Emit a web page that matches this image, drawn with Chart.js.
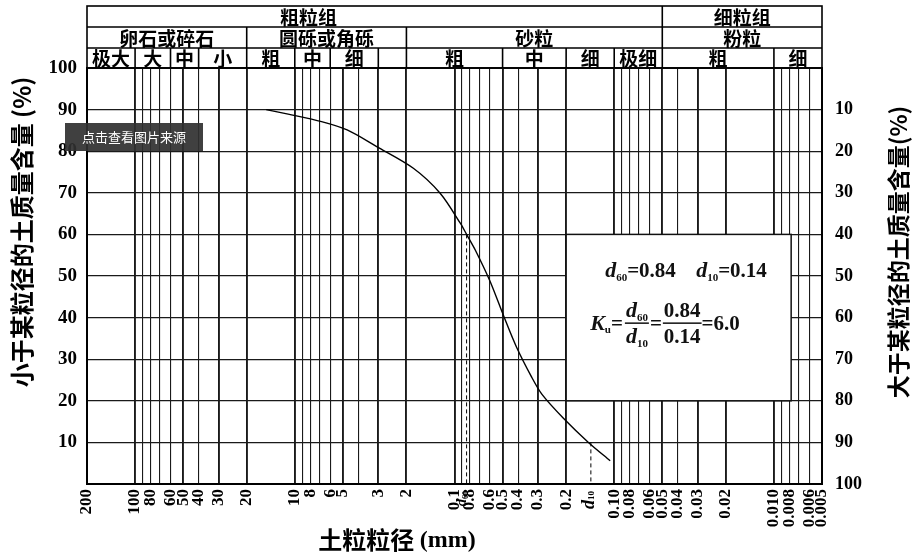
<!DOCTYPE html>
<html>
<head>
<meta charset="utf-8">
<script src="https://cdn.jsdelivr.net/npm/chart.js@4.4.1/dist/chart.umd.min.js"></script>
<style>
  html, body { margin: 0; padding: 0; background: #fff; }
</style>
</head>
<body>
<canvas id="chart" width="919" height="558"></canvas>
<script>
// grading curve: grain size (mm) vs. percent finer
const curveSizes = [15.1, 11.0, 6.8, 4.7, 3.07, 1.81, 1.23, 0.92, 0.84, 0.74, 0.60, 0.49, 0.41, 0.33, 0.284, 0.208, 0.145, 0.106];
const curvePassing = [90.0, 88.9, 87.1, 85.1, 81.1, 75.9, 69.9, 62.7, 60.0, 56.2, 48.8, 40.2, 33.0, 25.8, 21.6, 15.8, 10.0, 5.6];

const d60 = 0.84;
const d10 = 0.14;
const cu = 6.0;

// vertical grid lines of the log paper
const gridSizes = [200, 100, 90, 80, 70, 60, 50, 40, 30, 20,
  10, 9, 8, 7, 6, 5, 4, 3, 2,
  1, 0.9, 0.8, 0.7, 0.6, 0.5, 0.4, 0.3, 0.2,
  0.1, 0.09, 0.08, 0.07, 0.06, 0.05, 0.04, 0.03, 0.02,
  0.01, 0.009, 0.008, 0.007, 0.006, 0.005];

// labelled sizes under the axis (text as printed)
const labelSizes = [200, 100, 80, 60, 50, 40, 30, 20, 10, 8, 6, 5, 3, 2, 1, 0.8, 0.6, 0.5, 0.4, 0.3, 0.2,
  0.1, 0.08, 0.06, 0.05, 0.04, 0.03, 0.02, 0.01, 0.008, 0.006, 0.005];
const labelTexts = ["200", "100", "80", "60", "50", "40", "30", "20", "10", "8", "6", "5", "3", "2", "0.1", "0.8", "0.6", "0.5", "0.4", "0.3", "0.2",
  "0.10", "0.08", "0.06", "0.05", "0.04", "0.03", "0.02", "0.010", "0.008", "0.006", "0.005"];
const markSizes = [d60, d10];
const markSubs = ["60", "10"];

// classification header, three rows
const groupRow = [
  { from: 200, to: 0.05, text: "粗粒组", at: 8.2 },
  { from: 0.05, to: 0.005, text: "细粒组" },
];
const classRow = [
  { from: 200, to: 20, text: "卵石或碎石" },
  { from: 20, to: 2, text: "圆砾或角砾" },
  { from: 2, to: 0.05, text: "砂粒" },
  { from: 0.05, to: 0.005, text: "粉粒" },
];
const subRow = [
  { from: 200, to: 100, text: "极大" },
  { from: 100, to: 60, text: "大" },
  { from: 60, to: 40, text: "中" },
  { from: 40, to: 20, text: "小" },
  { from: 20, to: 10, text: "粗" },
  { from: 10, to: 6, text: "中" },
  { from: 6, to: 3, text: "细" },
  { from: 3, to: 2, text: "" },
  { from: 2, to: 0.5, text: "粗" },
  { from: 0.5, to: 0.2, text: "中" },
  { from: 0.2, to: 0.1, text: "细" },
  { from: 0.1, to: 0.05, text: "极细" },
  { from: 0.05, to: 0.01, text: "粗" },
  { from: 0.01, to: 0.005, text: "细" },
];

const SERIF = '"Liberation Serif", "DejaVu Serif", serif';
const CJK = '"Noto Sans CJK SC", sans-serif';

const mantissa = (v) => Math.round(v / Math.pow(10, Math.floor(Math.log10(v) + 1e-9)));

const drawRuns = (ctx, x, y, runs) => {
  runs.forEach((r) => {
    ctx.font = r.font;
    ctx.fillText(r.t, x, y + (r.dy || 0));
    x += ctx.measureText(r.t).width;
  });
  return x;
};
const runsWidth = (ctx, runs) => runs.reduce((w, r) => { ctx.font = r.font; return w + ctx.measureText(r.t).width; }, 0);

const big = "bold 21px " + SERIF;
const bigIt = "italic bold 22px " + SERIF;
const sub = "bold 11px " + SERIF;

const background = {
  id: "background",
  beforeDraw(chart) {
    const ctx = chart.ctx;
    ctx.save();
    ctx.fillStyle = "#fff";
    ctx.fillRect(0, 0, chart.width, chart.height);
    ctx.restore();
  },
};

const resultBox = {
  id: "resultBox",
  beforeDatasetsDraw(chart) {
    const ctx = chart.ctx, xs = chart.scales.x, ys = chart.scales.y;
    const L = xs.getPixelForValue(0.2), R = xs.getPixelForValue(0.0078);
    const T = ys.getPixelForValue(60), B = ys.getPixelForValue(20);
    ctx.save();
    ctx.fillStyle = "#fff";
    ctx.fillRect(L, T, R - L, B - T);
    ctx.strokeStyle = "#111";
    ctx.lineWidth = 1.5;
    ctx.strokeRect(L, T, R - L, B - T);
    ctx.fillStyle = "#111";
    ctx.textBaseline = "alphabetic";
    ctx.textAlign = "left";

    drawRuns(ctx, L + 39, T + 43, [
      { t: "d", font: bigIt }, { t: "60", font: sub, dy: 4 }, { t: "=" + d60.toFixed(2), font: big },
    ]);
    drawRuns(ctx, L + 130, T + 43, [
      { t: "d", font: bigIt }, { t: "10", font: sub, dy: 4 }, { t: "=" + d10.toFixed(2), font: big },
    ]);

    // K_u = d60/d10 = 0.84/0.14 = 6.0
    let x = drawRuns(ctx, L + 24, T + 96, [
      { t: "K", font: bigIt }, { t: "u", font: sub, dy: 3 }, { t: "=", font: big },
    ]);
    const frac = (x0, top, bot) => {
      const wTop = runsWidth(ctx, top), wBot = runsWidth(ctx, bot);
      const w = Math.max(wTop, wBot) + 2;
      drawRuns(ctx, x0 + (w - wTop) / 2, T + 83, top);
      drawRuns(ctx, x0 + (w - wBot) / 2, T + 109, bot);
      ctx.fillRect(x0, T + 88, w, 1.5);
      return x0 + w;
    };
    x = frac(x + 2, [{ t: "d", font: bigIt }, { t: "60", font: sub, dy: 4 }],
      [{ t: "d", font: bigIt }, { t: "10", font: sub, dy: 4 }]);
    x = drawRuns(ctx, x + 1, T + 96, [{ t: "=", font: big }]);
    x = frac(x + 1, [{ t: d60.toFixed(2), font: big }], [{ t: d10.toFixed(2), font: big }]);
    drawRuns(ctx, x, T + 96, [{ t: "=" + cu.toFixed(1), font: big }]);
    ctx.restore();
  },
};

const decorations = {
  id: "decorations",
  afterDraw(chart) {
    const ctx = chart.ctx, xs = chart.scales.x, area = chart.chartArea;
    const rows = [6, 27, 48, area.top];
    ctx.save();
    ctx.strokeStyle = "#000";
    ctx.fillStyle = "#000";
    ctx.lineWidth = 1.6;
    ctx.strokeRect(area.left, rows[0], area.right - area.left, rows[3] - rows[0]);
    ctx.beginPath();
    ctx.moveTo(area.left, rows[1]); ctx.lineTo(area.right, rows[1]);
    ctx.moveTo(area.left, rows[2]); ctx.lineTo(area.right, rows[2]);
    ctx.stroke();
    ctx.font = "bold 19px " + CJK;
    ctx.textAlign = "center";
    ctx.textBaseline = "middle";
    [groupRow, classRow, subRow].forEach((row, r) => {
      row.forEach((cell, i) => {
        const a = xs.getPixelForValue(cell.from), b = xs.getPixelForValue(cell.to);
        if (i < row.length - 1) {
          ctx.beginPath();
          ctx.moveTo(b, rows[r]); ctx.lineTo(b, rows[r + 1]);
          ctx.stroke();
        }
        const cx = cell.at ? xs.getPixelForValue(cell.at) : (a + b) / 2;
        ctx.fillText(cell.text, cx, (rows[r] + rows[r + 1]) / 2 + 1);
      });
    });

    // d60 / d10 marks under the axis
    markSizes.forEach((v, i) => {
      const px = xs.getPixelForValue(v) + (i === 0 ? -4 : -2);
      ctx.save();
      ctx.translate(px, area.bottom + 7);
      ctx.rotate(-Math.PI / 2);
      ctx.textAlign = "left";
      ctx.textBaseline = "middle";
      const runs = [
        { t: "d", font: "italic bold " + (i === 0 ? 15 : 18) + "px " + SERIF },
        { t: markSubs[i], font: "bold " + (i === 0 ? 8 : 9) + "px " + SERIF, dy: 3 },
      ];
      drawRuns(ctx, -runsWidth(ctx, runs), 0, runs);
      ctx.restore();
    });

    // axis titles
    ctx.textAlign = "center";
    ctx.textBaseline = "middle";
    ctx.font = "bold 24px " + CJK;
    ctx.save();
    ctx.translate(22, 232);
    ctx.rotate(-Math.PI / 2);
    ctx.fillText("小于某粒径的土质量含量 (%)", 0, 0);
    ctx.restore();
    ctx.font = "bold 23px " + CJK;
    ctx.save();
    ctx.translate(898, 252);
    ctx.rotate(-Math.PI / 2);
    ctx.fillText("大于某粒径的土质量含量(%)", 0, 0);
    ctx.restore();

    ctx.textAlign = "left";
    const t1 = "土粒粒径 ", t2 = "(mm)";
    ctx.font = "bold 24px " + CJK;
    const w1 = ctx.measureText(t1).width;
    ctx.font = "bold 24px " + SERIF;
    const w2 = ctx.measureText(t2).width;
    const x0 = 397 - (w1 + w2) / 2;
    ctx.font = "bold 24px " + CJK;
    ctx.fillText(t1, x0, 540);
    ctx.font = "bold 24px " + SERIF;
    ctx.fillText(t2, x0 + w1, 541);

    // overlay badge seen on the source image
    ctx.fillStyle = "rgba(48,48,48,0.92)";
    ctx.fillRect(65, 123, 138, 28);
    ctx.fillStyle = "#fff";
    ctx.textAlign = "center";
    ctx.font = "13px " + CJK;
    ctx.fillText("点击查看图片来源", 134, 137);
    ctx.restore();
  },
};

const chart = new Chart(document.getElementById("chart"), {
  type: "scatter",
  data: {
    datasets: [
      {
        data: curveSizes.map((d, i) => ({ x: d, y: curvePassing[i] })),
        showLine: true,
        borderColor: "#000",
        borderWidth: 1.4,
        pointRadius: 0,
        tension: 0.3,
      },
      {
        data: [{ x: d60, y: 60 }, { x: d60, y: 0 }],
        showLine: true,
        borderColor: "#000",
        borderWidth: 1,
        borderDash: [4, 3],
        pointRadius: 0,
      },
      {
        data: [{ x: d10, y: 10 }, { x: d10, y: 0 }],
        showLine: true,
        borderColor: "#000",
        borderWidth: 1,
        borderDash: [4, 3],
        pointRadius: 0,
      },
    ],
  },
  options: {
    responsive: false,
    animation: false,
    layout: { padding: { top: 68, left: 0, right: 0, bottom: 0 } },
    plugins: { legend: { display: false }, tooltip: { enabled: false } },
    scales: {
      x: {
        type: "logarithmic",
        reverse: true,
        min: 0.005,
        max: 200,
        afterFit: (s) => { s.height = 74; },
        afterBuildTicks: (s) => { s.ticks = gridSizes.map((v) => ({ value: v })); },
        border: { color: "#000", width: 2 },
        grid: {
          drawTicks: false,
          color: "#1a1a1a",
          lineWidth: (c) => (c.tick && [1, 2, 3, 5].includes(mantissa(c.tick.value)) ? 1.9 : 1.1),
        },
        ticks: {
          autoSkip: false,
          minRotation: 90,
          maxRotation: 90,
          padding: 5,
          color: "#000",
          font: { family: SERIF, size: 17, weight: "bold" },
          callback: (v) => {
            const i = labelSizes.indexOf(v);
            return i >= 0 ? labelTexts[i] : "";
          },
        },
      },
      y: {
        position: "left",
        min: 0,
        max: 100,
        afterFit: (s) => { s.width = 87; },
        border: { color: "#000", width: 2 },
        grid: {
          drawTicks: false,
          color: "#1a1a1a",
          lineWidth: (c) => (c.tick && c.tick.value === 100 ? 2 : 1.3),
        },
        ticks: {
          stepSize: 5,
          padding: 10,
          color: "#000",
          font: { family: SERIF, size: 19, weight: "bold" },
          callback: (v) => (v % 10 === 0 && v > 0 ? String(v) : ""),
        },
      },
      y2: {
        position: "right",
        min: 0,
        max: 100,
        reverse: true,
        afterFit: (s) => { s.width = 97; },
        border: { color: "#000", width: 2 },
        grid: { drawOnChartArea: false, drawTicks: false },
        ticks: {
          stepSize: 10,
          padding: 13,
          color: "#000",
          font: { family: SERIF, size: 18, weight: "bold" },
          callback: (v) => (v > 0 ? String(v) : ""),
        },
      },
    },
  },
  plugins: [background, resultBox, decorations],
});
</script>
</body>
</html>
